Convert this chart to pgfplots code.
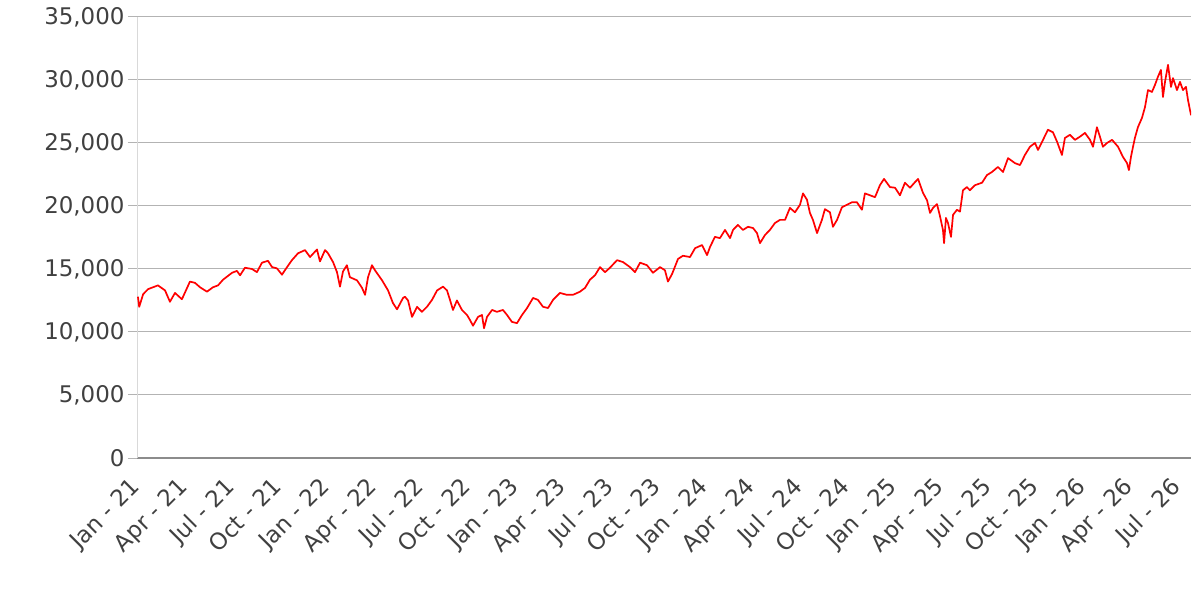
\documentclass[border=0pt]{standalone}
\usepackage{fontspec}
\setmainfont{DejaVu Sans}
\usepackage{pgfplots}
\pgfplotsset{compat=1.18}
\usepackage{pgfplotstable}
\definecolor{labc}{HTML}{404040}
\definecolor{gridc}{HTML}{B3B3B3}
\definecolor{leftc}{HTML}{D9D9D9}
\definecolor{botc}{HTML}{8C8C8C}
\pgfplotstableread{
m v
-0.13 12800
-0.05 12000
0.20 13000
0.51 13400
1.14 13700
1.59 13300
1.90 12400
2.22 13100
2.66 12600
3.17 14000
3.49 13900
3.81 13550
4.25 13200
4.63 13550
4.95 13700
5.27 14150
5.84 14700
6.15 14850
6.35 14500
6.66 15100
7.11 15000
7.42 14750
7.74 15500
8.12 15650
8.38 15150
8.69 15050
9.01 14550
9.33 15150
9.64 15700
10.03 16250
10.47 16500
10.79 15950
11.23 16550
11.42 15600
11.74 16500
11.93 16250
12.25 15550
12.50 14750
12.69 13600
12.88 14800
13.13 15300
13.32 14350
13.77 14100
14.09 13500
14.28 12950
14.47 14350
14.72 15300
14.91 14900
15.36 14100
15.74 13300
16.05 12300
16.31 11800
16.69 12700
16.81 12800
17.01 12500
17.26 11200
17.58 12000
17.89 11600
18.21 12000
18.53 12550
18.85 13300
19.23 13600
19.48 13300
19.67 12550
19.86 11750
20.11 12500
20.43 11750
20.75 11350
20.94 10950
21.13 10500
21.45 11200
21.70 11350
21.83 10300
22.02 11200
22.34 11750
22.65 11600
23.03 11750
23.29 11350
23.60 10800
23.92 10700
24.24 11350
24.56 11900
24.94 12700
25.25 12550
25.57 12000
25.89 11900
26.21 12550
26.65 13100
27.09 12950
27.47 12950
27.92 13200
28.24 13500
28.55 14150
28.87 14500
29.19 15150
29.51 14750
29.82 15100
30.27 15700
30.65 15550
31.09 15150
31.41 14750
31.73 15500
32.17 15300
32.55 14700
33.00 15150
33.31 14900
33.50 14000
33.76 14600
34.14 15800
34.45 16050
34.90 15950
35.22 16650
35.66 16900
35.98 16100
36.17 16750
36.48 17550
36.80 17450
37.12 18100
37.44 17450
37.63 18100
37.94 18500
38.26 18100
38.58 18350
38.90 18250
39.15 17850
39.34 17050
39.66 17700
39.97 18100
40.29 18650
40.61 18900
40.93 18900
41.24 19850
41.56 19500
41.88 20100
42.07 21000
42.32 20500
42.51 19450
42.70 18900
42.96 17850
43.27 18900
43.46 19750
43.78 19500
43.97 18350
44.23 18900
44.54 19900
44.86 20100
45.18 20300
45.49 20300
45.81 19700
46.00 21000
46.32 20850
46.64 20700
46.95 21650
47.21 22150
47.59 21500
47.91 21450
48.22 20850
48.54 21850
48.86 21450
49.18 21900
49.37 22150
49.68 21050
49.94 20450
50.13 19450
50.32 19850
50.57 20150
50.76 19200
50.95 18100
51.02 17050
51.14 19050
51.27 18650
51.46 17550
51.59 19300
51.84 19700
52.03 19550
52.22 21250
52.47 21500
52.66 21250
52.98 21650
53.43 21850
53.74 22450
54.06 22700
54.44 23100
54.76 22700
55.08 23800
55.52 23400
55.84 23250
56.15 24050
56.47 24700
56.79 25000
56.98 24450
57.30 25250
57.61 26050
57.93 25850
58.19 25100
58.50 24050
58.69 25400
59.01 25650
59.33 25250
59.64 25500
59.96 25800
60.28 25250
60.47 24700
60.72 26250
60.91 25500
61.10 24700
61.36 25000
61.68 25250
62.06 24700
62.37 23900
62.63 23400
62.75 22850
62.88 23900
63.01 24700
63.13 25400
63.32 26250
63.58 27000
63.77 27850
63.96 29200
64.21 29050
64.40 29600
64.59 30250
64.78 30800
64.91 28650
65.04 29850
65.23 31200
65.42 29450
65.55 30150
65.80 29200
65.99 29850
66.18 29200
66.37 29450
66.50 28400
66.69 27200
}\datatable
\begin{document}
\begin{tikzpicture}
\useasboundingbox (0,0) rectangle (1200bp,600bp);
\begin{axis}[
  at={(137bp,142bp)}, anchor=south west,
  scale only axis, width=1054bp, height=441bp,
  xmin=-0.19, xmax=66.69, ymin=0, ymax=35000,
  xtick={0,3,...,66},
  xticklabels={Jan - 21, Apr - 21, Jul - 21, Oct - 21, Jan - 22, Apr - 22, Jul - 22, Oct - 22, Jan - 23, Apr - 23, Jul - 23, Oct - 23, Jan - 24, Apr - 24, Jul - 24, Oct - 24, Jan - 25, Apr - 25, Jul - 25, Oct - 25, Jan - 26, Apr - 26, Jul - 26},
  ytick={0,5000,...,35000},
  scaled y ticks=false,
  ymajorgrids, grid style={draw=gridc, line width=1bp},
  axis x line*=bottom, axis y line*=left,
  x axis line style={draw=botc, line width=1.2bp, -},
  y axis line style={draw=leftc, line width=1bp, -},
  xtick style={draw=none},
  ytick style={draw=gridc, line width=1bp},
  major tick length=9bp, tick align=outside,
  tick label style={font=\fontsize{23}{27}\selectfont, text=labc},
  xticklabel style={rotate=45, anchor=north east, xshift=-10.6bp, yshift=4.6bp},
  /pgf/number format/1000 sep={,},
  /pgf/number format/assume math mode=true,
]
\addplot[red, line width=1.7bp, line join=round] table[x=m, y=v]{\datatable};
\end{axis}
\end{tikzpicture}
\end{document}
